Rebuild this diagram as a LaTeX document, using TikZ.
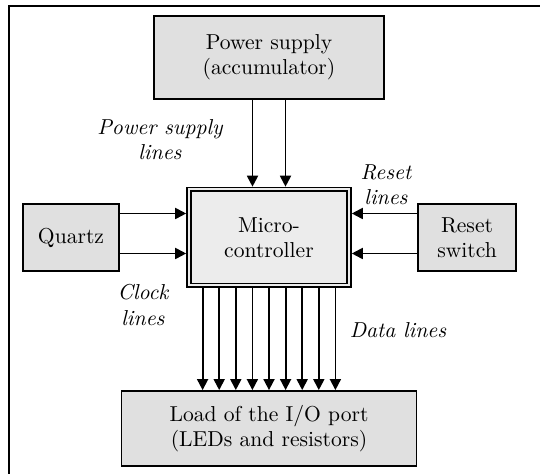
\documentclass[tikz,border=0pt]{standalone}
\usepackage{xcolor}
\usepackage{tikz}
\usetikzlibrary{arrows.meta,positioning}
\definecolor{boxGray}{RGB}{224,224,224}
\definecolor{mcuGray}{RGB}{236,236,236}
\tikzset{
  blockbox/.style={draw, line width=0.9pt, fill=boxGray, align=center, inner sep=2pt,
    font=\fontsize{10.8pt}{12.6pt}\selectfont},
  sigline/.style={line width=0.9pt, -{Triangle[length=5.5pt,width=5.5pt]}},
  linelabel/.style={align=center, font=\fontsize{10.8pt}{12.6pt}\selectfont\itshape}
}

\begin{document}
\begin{tikzpicture}[x=0.5pt, y=-0.5pt]
\useasboundingbox (0,0) rectangle (540,474);
\draw[line width=1pt] (9,480) -- (9,6) -- (545,6);
% blocks
\node[blockbox, minimum width=115pt, minimum height=41.5pt] (power) at (269,57.5) {Power supply\\(accumulator)};
\node[draw, line width=0.9pt, fill=mcuGray, double=mcuGray, double distance=1pt, outer sep=1.4pt,
      minimum width=80pt, minimum height=48pt, align=center,
      font=\fontsize{10.8pt}{12.6pt}\selectfont] (mcu) at (269,237.5) {Micro-\\controller};
\node[blockbox, minimum width=48pt, minimum height=33.5pt] (quartz) at (71,237.5) {Quartz};
\node[blockbox, minimum width=49pt, minimum height=33.5pt] (reset) at (467,237.5) {Reset\\switch};
\node[blockbox, minimum width=147.5pt, minimum height=37.5pt] (load) at (269,428.5) {Load of the I/O port\\(LEDs and resistors)};
% connections
\foreach \dx in {-8.25pt,8.25pt}
  \draw[sigline] ([xshift=\dx]power.south) -- ([xshift=\dx]mcu.north);
\foreach \dy in {12pt,-8pt} {
  \draw[sigline] ([yshift=\dy]quartz.east) -- ([yshift=\dy]mcu.west);
  \draw[sigline] ([yshift=\dy]reset.west) -- ([yshift=\dy]mcu.east);
}
\foreach \i in {-4,...,4}
  \draw[sigline] ([xshift=\i*8.3pt]mcu.south) -- ([xshift=\i*8.3pt]load.north);
% labels
\node[linelabel] (pwrlbl) at (160,140) {Power supply\\lines};
\node[linelabel] (rstlbl) at (386,185) {Reset\\lines};
\node[linelabel] (clklbl) at (143,305) {Clock\\lines};
\node[linelabel] (datlbl) at (398,330) {Data lines};
\end{tikzpicture}
\end{document}
